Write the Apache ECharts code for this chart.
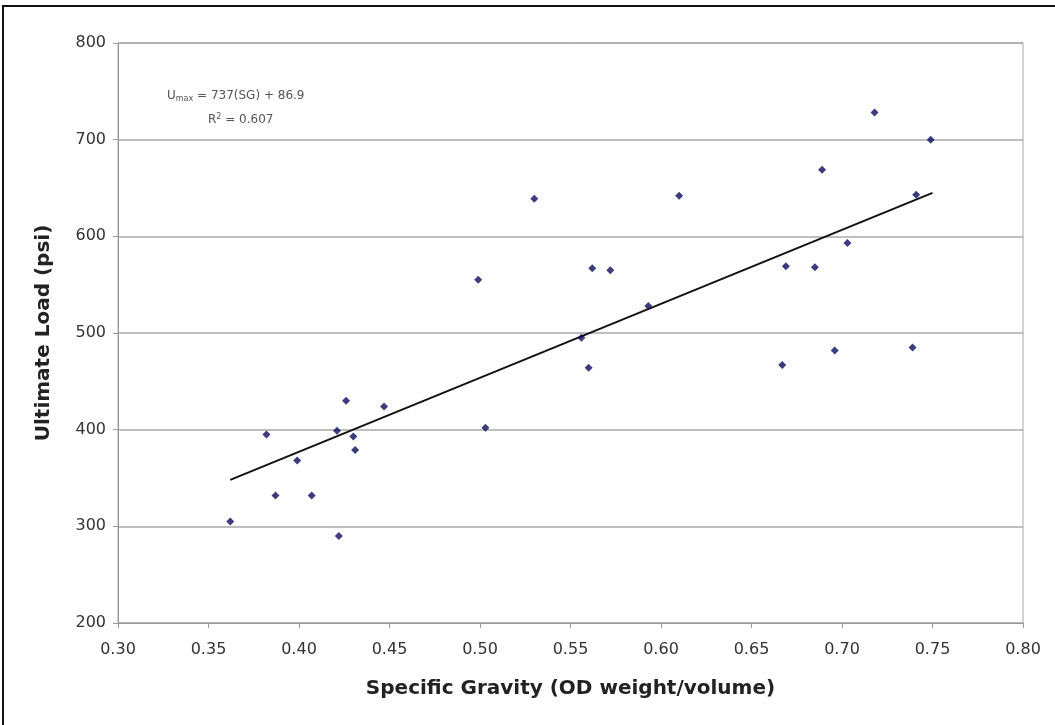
<!DOCTYPE html>
<html>
<head>
<meta charset="utf-8">
<script src="https://cdn.jsdelivr.net/npm/echarts@6/dist/echarts.min.js"></script>
<style>
  html, body { margin: 0; padding: 0; background: #fff; }
  #chart { width: 1055px; height: 725px; }
</style>
</head>
<body>
<div id="chart"></div>
<script>
// specific gravity (x) and ultimate load (y)
var sg = [0.362, 0.382, 0.387, 0.399, 0.407, 0.422, 0.421, 0.426, 0.430, 0.431,
          0.447, 0.499, 0.503, 0.530, 0.556, 0.560, 0.562, 0.572, 0.593, 0.610,
          0.667, 0.669, 0.685, 0.689, 0.696, 0.703, 0.718, 0.739, 0.741, 0.749];
var load = [305, 395, 332, 368, 332, 290, 399, 430, 393, 379,
            424, 555, 402, 639, 495, 464, 567, 565, 528, 642,
            467, 569, 568, 669, 482, 593, 728, 485, 643, 700];

// trend line ends as drawn
var trendX = [0.362, 0.750];
var trendY = [348, 645];

var xTicks = { min: 0.30, max: 0.80, step: 0.05 };
var yTicks = { min: 200, max: 800, step: 100 };

var points = sg.map(function (x, i) { return [x, load[i]]; });
var trend = trendX.map(function (x, i) { return [x, trendY[i]]; });

var chart = echarts.init(document.getElementById('chart'));
var font = 'DejaVu Sans';

var option = {
  backgroundColor: '#fff',
  animation: false,
  grid: {
    left: 118, right: 32, top: 43, bottom: 102,
    show: true, borderColor: '#a8a8a8', borderWidth: 1
  },
  xAxis: {
    type: 'value',
    min: xTicks.min, max: xTicks.max, interval: xTicks.step,
    name: 'Specific Gravity (OD weight/volume)',
    nameLocation: 'middle',
    nameGap: 56,
    nameTextStyle: { fontFamily: font, fontWeight: 'bold', fontSize: 20, color: '#222' },
    axisLine: { lineStyle: { color: '#999' } },
    axisTick: { show: true, length: 5, lineStyle: { color: '#999' } },
    axisLabel: {
      fontFamily: font, fontSize: 16, color: '#333', margin: 19,
      formatter: function (v) { return v.toFixed(2); }
    },
    splitLine: { show: false }
  },
  yAxis: {
    type: 'value',
    min: yTicks.min, max: yTicks.max, interval: yTicks.step,
    name: 'Ultimate Load (psi)',
    nameLocation: 'middle',
    nameGap: 64,
    nameTextStyle: { fontFamily: font, fontWeight: 'bold', fontSize: 20, color: '#222' },
    axisLine: { show: true, lineStyle: { color: '#999' } },
    axisTick: { show: true, length: 5, lineStyle: { color: '#999' } },
    axisLabel: { fontFamily: font, fontSize: 16, color: '#333', margin: 12 },
    splitLine: { show: true, lineStyle: { color: '#a8a8a8', width: 1.5 } }
  },
  graphic: [
    {
      type: 'rect', silent: true, z: -10,
      shape: { x: 3, y: 6, width: 1070, height: 740 },
      style: { fill: null, stroke: '#111', lineWidth: 2 }
    },
    {
      type: 'text', left: 167, top: 90,
      style: {
        text: '{a|U}{s|max}{a| = 737(SG) + 86.9}',
        rich: {
          a: { fontFamily: font, fontSize: 12, fill: '#555' },
          s: { fontFamily: font, fontSize: 8, fill: '#555', padding: [6, 0, 0, 0] }
        }
      }
    },
    {
      type: 'text', left: 208, top: 113,
      style: {
        text: '{a|R}{p|2}{a| = 0.607}',
        rich: {
          a: { fontFamily: font, fontSize: 12, fill: '#555' },
          p: { fontFamily: font, fontSize: 8, fill: '#555', padding: [0, 0, 6, 0] }
        }
      }
    }
  ],
  series: [
    {
      type: 'line',
      data: trend,
      showSymbol: false,
      lineStyle: { color: '#111', width: 2 },
      z: 2
    },
    {
      type: 'scatter',
      data: points,
      symbol: 'diamond',
      symbolSize: 8,
      itemStyle: { color: '#0c0c5c' },
      z: 3
    }
  ]
};

chart.setOption(option);
</script>
</body>
</html>
